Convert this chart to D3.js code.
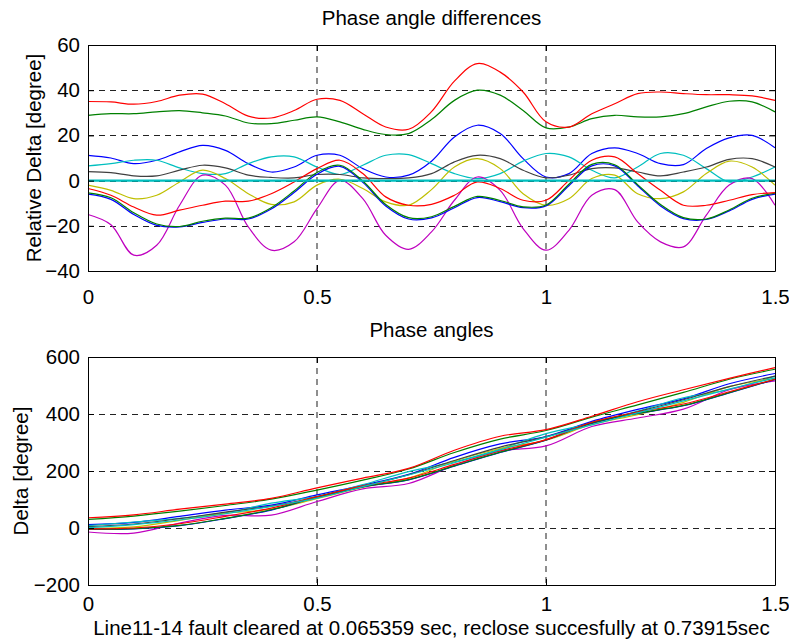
<!DOCTYPE html>
<html>
<head>
<meta charset="utf-8">
<script src="https://cdn.jsdelivr.net/npm/d3@7"></script>
<style>
body { margin: 0; background: #fff; }
svg text { font-family: 'Liberation Sans', Arial, sans-serif; font-size: 20.5px; fill: #000; }
</style>
</head>
<body>
<div id="chart"></div>
<script>
// time axis [s]
const timeDiff = [0,0.05,0.1,0.15,0.2,0.25,0.3,0.35,0.4,0.45,0.5,0.55,0.6,0.65,0.7,0.75,
  0.8,0.85,0.9,0.95,1,1.05,1.1,1.15,1.2,1.25,1.3,1.35,1.4,1.45,1.5];
const timeAngle = [0,0.1,0.2,0.3,0.4,0.5,0.6,0.7,0.8,0.9,1,1.1,1.2,1.3,1.4,1.5];

// relative phase angle differences [degree]
const diffBlue1 = [11.2,10,7.5,9,12.7,15.6,13.4,7.5,3.8,6,11.2,11.2,5.3,1.6,2.4,8.6,19.3,24.5,20.8,9.7,1.6,3.1,12,14.5,12,7.5,7.1,14.2,18.9,20,14.5];
const diffGreen1 = [28.9,29.6,29.6,30.4,31,30,28.6,25.5,25.2,26.7,28.2,26,22.7,20.4,20.8,27,35.5,40,37.8,31,23.3,23.7,27.4,28.9,28.2,28.2,29.6,32.6,35.1,34.8,30.4];
const diffRed1 = [35,34.8,33.8,35,37.8,38.3,34,28.5,27.7,31,36,35.5,29.6,23.7,22.7,30.5,44,51.8,48,39.2,26,23.7,29.6,34,38.5,39.2,38.5,38,38,37.5,35.5];
const diffCyan1 = [6.5,7.5,9,9,5.6,3.1,3.1,7.5,10.5,10.5,6,2.7,6.8,11.2,11.5,7.5,3.1,0.9,3.1,8.6,12,10.5,4.6,1.2,6,12,11.2,5.3,-0.6,1.6,6];
const diffMagenta = [-15,-19.5,-33,-28.6,-10.9,2.4,-2,-20.5,-30.8,-27.1,-12.4,0.1,-8,-24.2,-30.4,-22.7,-8.7,1.6,-4.3,-21.2,-30.8,-22,-6.5,-4,-18.3,-27.1,-29.3,-15.3,-2,0.9,-10.9];
const diffYellow = [-2,-4.3,-8,-6.5,-0.6,4.6,0.9,-5.8,-10.5,-9.4,-2,0.6,-3.5,-9.4,-10.9,-4,6,9.7,5.3,-5.8,-10.9,-8,0.9,2.4,-5.8,-8,-5,3.1,8.6,6,-2];
const diffGray = [4,3.5,2.1,2.1,4.6,6.8,5.6,2.4,1.4,1.2,2.7,2.7,1.2,0.9,1.2,3.1,8.3,11.2,9.7,4.6,1.2,2.4,5.3,5.6,3.8,2.1,3.8,6,9.4,9.7,6];
const diffBlue2 = [-6,-8.3,-15,-19.8,-20.5,-18.5,-17,-17,-12.6,-5.3,2.8,6.3,-0.8,-11.2,-17,-16.5,-12,-7.5,-9.3,-12,-11.2,-2.3,6.5,6.5,-2.3,-11.2,-16.8,-17.2,-13.4,-8.3,-6];
const diffGreen2 = [-5.4,-7.6,-14.2,-19.2,-20.3,-18,-16.6,-16.6,-12,-4.6,3.6,6.8,-0.2,-10.6,-16.4,-16,-11.4,-7,-8.8,-11.6,-10.8,-1.6,7.2,7,-1.8,-10.6,-16.4,-17,-13,-7.8,-5.6];
const diffRed2 = [-3.5,-6.5,-11.7,-15.3,-13.1,-10.9,-9.1,-9.1,-5.8,-0.6,5.3,9,3.1,-7.2,-10.9,-10.5,-6.5,-0.6,-3.5,-8.7,-8.7,0.1,9,10.5,3.1,-4.3,-10.9,-10.9,-8.7,-6.2,-5.3];
const diffCyan2 = [0,0,0,0,0,0,0,0,0,0,0,0,0,0,0,0,0,0,0,0,0,0,0,0,0,0,0,0,0,0,0];

// phase angles [degree]
const angleBlue1 = [12,20,41,63,80,116,150,188,248,295,321,374,416,453,506,542];
const angleGreen1 = [30,42,59,79,101,133,168,207,265,312,342,389,432,476,522,557];
const angleRed1 = [36,46,66,84,104,141,175,209,273,322,345,392,443,485,525,563];
const angleCyan1 = [8,21,34,53,87,111,152,198,232,277,331,367,410,457,486,533];
const angleMagenta = [-14,-18,17,44,45,93,137,156,220,270,288,356,386,417,485,516];
const angleYellow = [-1,4,27,51,66,103,142,175,235,279,308,363,398,441,496,525];
const angleGray = [5,14,33,56,77,108,146,187,237,284,320,367,408,450,496,533];
const angleBlue2 = [-5,-3,8,33,63,108,144,169,217,265,308,369,402,429,474,521];
const angleGreen2 = [-4,-2,9,34,64,109,145,170,218,266,309,370,403,430,475,522];
const angleRed2 = [-3,0,15,41,70,110,148,175,223,271,310,371,407,435,478,522];
const angleCyan2 = [1,12,28,50,76,105,145,186,229,274,319,362,404,446,487,527];

const xTicks = [0, 0.5, 1, 1.5];
const diffTicks = [-40, -20, 0, 20, 40, 60];
const angleTicks = [-200, 0, 200, 400, 600];
const lineColors = ['#0000ff','#008000','#ff0000','#00bfbf','#bf00bf','#bfbf00','#404040',
  '#0000ff','#008000','#ff0000','#00bfbf'];

let width = 789, height = 641;

let svg = d3.select('#chart')
  .append('svg')
    .attr('width', width)
    .attr('height', height)
    .style('background', 'white');

function panel(opts) {
  let x = d3.scaleLinear().domain([0, 1.5]).range([88, 775]);
  let y = d3.scaleLinear().domain(opts.domain).range([opts.bottom, opts.top]);
  let g = svg.append('g');

  // dashed grid
  g.selectAll('line.gx')
    .data(xTicks.slice(1, -1))
    .enter().append('line')
      .attr('x1', d => Math.round(x(d))).attr('x2', d => Math.round(x(d)))
      .attr('y1', opts.top).attr('y2', opts.bottom)
      .attr('stroke', '#444').attr('stroke-width', 1.2)
      .attr('stroke-dasharray', '6,5');
  g.selectAll('line.gy')
    .data(opts.ticks.slice(1, -1))
    .enter().append('line')
      .attr('x1', 88).attr('x2', 775)
      .attr('y1', d => Math.round(y(d)) + 0.5).attr('y2', d => Math.round(y(d)) + 0.5)
      .attr('stroke', '#222').attr('stroke-width', 1)
      .attr('stroke-dasharray', '6,5');

  let line = d3.line()
    .x((d, i) => x(opts.time[i]))
    .y(d => y(d))
    .curve(d3.curveCatmullRom);

  // last series is the reference machine, drawn a bit heavier
  g.selectAll('path.series')
    .data(opts.series)
    .enter().append('path')
      .attr('d', d => line(d))
      .attr('fill', 'none')
      .attr('stroke', (d, i) => lineColors[i])
      .attr('stroke-width', (d, i) => i == opts.series.length - 1 ? opts.refWidth : 1.2);

  // axes box with inward ticks
  let noLabel = () => '';
  g.append('g').attr('transform', 'translate(0,' + opts.bottom + ')')
    .call(d3.axisBottom(x).tickValues(xTicks).tickSize(-6).tickSizeOuter(0).tickPadding(opts.xPad)
      .tickFormat(d3.format('')));
  g.append('g').attr('transform', 'translate(0,' + opts.top + ')')
    .call(d3.axisTop(x).tickValues(xTicks).tickSize(-6).tickSizeOuter(0).tickFormat(noLabel));
  g.append('g').attr('transform', 'translate(88,0)')
    .call(d3.axisLeft(y).tickValues(opts.ticks).tickSize(-6).tickSizeOuter(0).tickPadding(8)
      .tickFormat(d3.format('')));
  g.append('g').attr('transform', 'translate(775,0)')
    .call(d3.axisRight(y).tickValues(opts.ticks).tickSize(-6).tickSizeOuter(0).tickFormat(noLabel));
  g.selectAll('.domain').attr('stroke', '#000');
  g.selectAll('.tick line').attr('stroke', '#000');
  g.selectAll('.tick text').style('font-size', '20.5px').attr('fill', '#000');

  // title
  g.append('text')
    .attr('x', 431.5).attr('y', opts.top - 20)
    .attr('text-anchor', 'middle')
    .text(opts.title);

  // y label
  g.append('text')
    .attr('transform', 'translate(' + opts.ylabelX + ',' + (opts.top + opts.bottom) / 2 + ') rotate(-90)')
    .attr('text-anchor', 'middle')
    .text(opts.ylabel);
}

panel({
  top: 45, bottom: 271, domain: [-40, 60], ticks: diffTicks,
  time: timeDiff, xPad: 18, refWidth: 2.2,
  series: [diffBlue1, diffGreen1, diffRed1, diffCyan1, diffMagenta, diffYellow, diffGray,
    diffBlue2, diffGreen2, diffRed2, diffCyan2],
  title: 'Phase angle differences', ylabel: 'Relative Delta [degree]', ylabelX: 41
});

panel({
  top: 357, bottom: 585, domain: [-200, 600], ticks: angleTicks,
  time: timeAngle, xPad: 11, refWidth: 1.2,
  series: [angleBlue1, angleGreen1, angleRed1, angleCyan1, angleMagenta, angleYellow, angleGray,
    angleBlue2, angleGreen2, angleRed2, angleCyan2],
  title: 'Phase angles', ylabel: 'Delta [degree]', ylabelX: 28
});

// x label
svg.append('text')
  .attr('x', 431.5).attr('y', 635)
  .attr('text-anchor', 'middle')
  .text('Line11-14 fault cleared at 0.065359 sec, reclose succesfully at 0.73915sec');
</script>
</body>
</html>
